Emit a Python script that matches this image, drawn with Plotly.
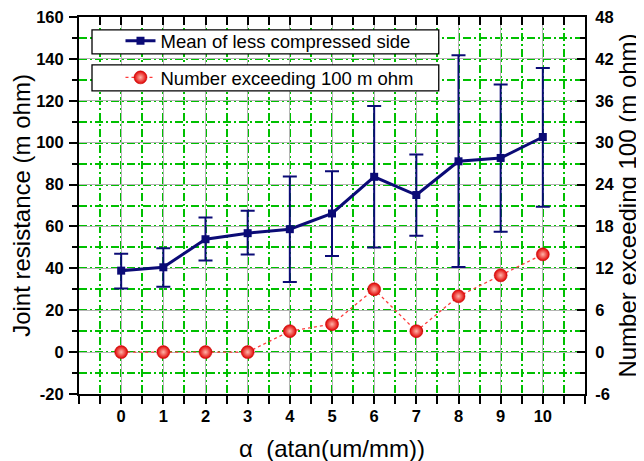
import plotly.graph_objects as go

alpha = [0, 1, 2, 3, 4, 5, 6, 7, 8, 9, 10]
mean_less = [38.9, 40.5, 53.9, 56.8, 58.7, 66.2, 83.7, 75.0, 91.1, 92.7, 102.7]
err_upper = [47.0, 49.6, 64.3, 67.5, 83.8, 86.3, 117.5, 94.4, 141.7, 127.8, 135.6]
err_lower = [30.4, 31.2, 43.7, 46.6, 33.5, 45.9, 50.0, 55.6, 40.6, 57.5, 69.4]
num_exceed = [0, 0, 0, 0, 3, 4, 9, 3, 8, 11, 14]

x_ticks = list(range(0, 11))
y_ticks = list(range(-20, 161, 20))
y2_ticks = list(range(-6, 49, 6))

NAVY = "#0b0b76"
GRAY = "#b4b4b4"
GREEN = "#00c000"
DASHDOT = "8px,3px,2px,3px"
FONT = "Liberation Sans, Arial, sans-serif"

fig = go.Figure()

fig.add_trace(go.Scatter(
    x=alpha, y=mean_less, mode="lines+markers",
    name="Mean of less compressed side",
    line=dict(color=NAVY, width=3),
    marker=dict(symbol="square", size=8, color=NAVY),
    error_y=dict(type="data", symmetric=False,
                 array=[u - m for u, m in zip(err_upper, mean_less)],
                 arrayminus=[m - l for m, l in zip(mean_less, err_lower)],
                 color=NAVY, thickness=2, width=7),
    legend="legend",
))

fig.add_trace(go.Scatter(
    x=alpha, y=num_exceed, mode="lines+markers",
    name="Number exceeding 100 m ohm",
    yaxis="y2",
    line=dict(color="#ff3a3a", width=1.3, dash="dot"),
    marker=dict(symbol="circle", size=13, color="#e00000",
                gradient=dict(type="radial", color="#ffb4a8"),
                line=dict(color="#c00000", width=0.5)),
    legend="legend2",
))

# invisible trace to activate top axis
fig.add_trace(go.Scatter(x=[alpha[0]], y=[mean_less[0]], xaxis="x2", yaxis="y",
                         mode="markers", marker=dict(opacity=0), showlegend=False,
                         hoverinfo="skip"))

tickfont = dict(family=FONT, size=16.5, color="black", weight="bold")
titlefont = dict(family=FONT, size=24, color="black")

fig.update_layout(
    template="none",
    width=644, height=461,
    margin=dict(l=71, r=67, t=9, b=75),
    plot_bgcolor="white", paper_bgcolor="white",
    font=dict(family=FONT, color="black"),
    xaxis=dict(
        automargin=False,
        range=[-1, 11], tickvals=x_ticks, ticktext=[str(v) for v in x_ticks],
        ticks="outside", ticklen=8, tickwidth=2, tickcolor="black",
        ticklabelstandoff=-2, ticklabeloverflow="allow",
        showline=True, linecolor="black", linewidth=2,
        showgrid=True, gridcolor=GRAY, gridwidth=1.3,
        minor=dict(dtick=0.5, tick0=-1, ticks="outside", ticklen=8, tickwidth=2,
                   tickcolor="black", showgrid=True, gridcolor=GREEN,
                   griddash=DASHDOT, gridwidth=1.5),
        tickfont=tickfont, zeroline=False,
        title=dict(text="α\u00a0\u00a0(atan(um/mm))", font=titlefont, standoff=16),
    ),
    xaxis2=dict(
        automargin=False,
        range=[-1, 11], overlaying="x", side="top", tickvals=x_ticks,
        showticklabels=False, ticks="inside", ticklen=8, tickwidth=2, tickcolor="black",
        showline=True, linecolor="black", linewidth=2, showgrid=False, zeroline=False,
        minor=dict(dtick=0.5, tick0=-1, ticks="inside", ticklen=8, tickwidth=2,
                   tickcolor="black", showgrid=False),
    ),
    yaxis=dict(
        automargin=False,
        range=[-20, 160], tickvals=y_ticks, ticktext=[str(v) for v in y_ticks],
        ticks="outside", ticklen=8, tickwidth=2,
        tickcolor="black", showline=True, linecolor="black", linewidth=2,
        ticklabelstandoff=2, ticklabeloverflow="allow",
        showgrid=True, gridcolor=GRAY, gridwidth=1.3, zeroline=False,
        minor=dict(dtick=10, tick0=-20, ticks="outside", ticklen=5, tickwidth=2,
                   tickcolor="black", showgrid=True, gridcolor=GREEN,
                   griddash=DASHDOT, gridwidth=1.5),
        tickfont=tickfont,
        title=dict(text="Joint resistance (m ohm)", font=titlefont, standoff=0),
    ),
    yaxis2=dict(
        automargin=False,
        range=[-6, 48], tickvals=y2_ticks, ticktext=[str(v) for v in y2_ticks],
        overlaying="y", side="right",
        ticks="inside", ticklen=8, tickwidth=2, tickcolor="black",
        ticklabelstandoff=5, ticklabeloverflow="allow",
        showline=True, linecolor="black", linewidth=2, showgrid=False, zeroline=False,
        minor=dict(dtick=3, tick0=-6, ticks="inside", ticklen=5, tickwidth=2,
                   tickcolor="black", showgrid=False),
        tickfont=tickfont,
        title=dict(text="Number exceeding 100 (m ohm)", font=titlefont, standoff=0),
    ),
    legend=dict(x=0.082, y=0.986, xanchor="left", yanchor="top",
                bgcolor="rgba(0,0,0,0)", borderwidth=0,
                font=dict(family=FONT, size=18.5, color="black")),
    legend2=dict(x=0.082, y=0.889, xanchor="left", yanchor="top",
                 bgcolor="rgba(0,0,0,0)", borderwidth=0,
                 font=dict(family=FONT, size=18.5, color="black")),
    shapes=[
        dict(type="rect", xref="paper", yref="paper", x0=0.0257, x1=0.711,
             y0=0.902, y1=0.966, fillcolor="white", line=dict(color="black", width=1.3),
             layer="above"),
        dict(type="rect", xref="paper", yref="paper", x0=0.0257, x1=0.711,
             y0=0.804, y1=0.873, fillcolor="white", line=dict(color="black", width=1.3),
             layer="above"),
    ],
    showlegend=True,
)

fig.write_html("out.html")
